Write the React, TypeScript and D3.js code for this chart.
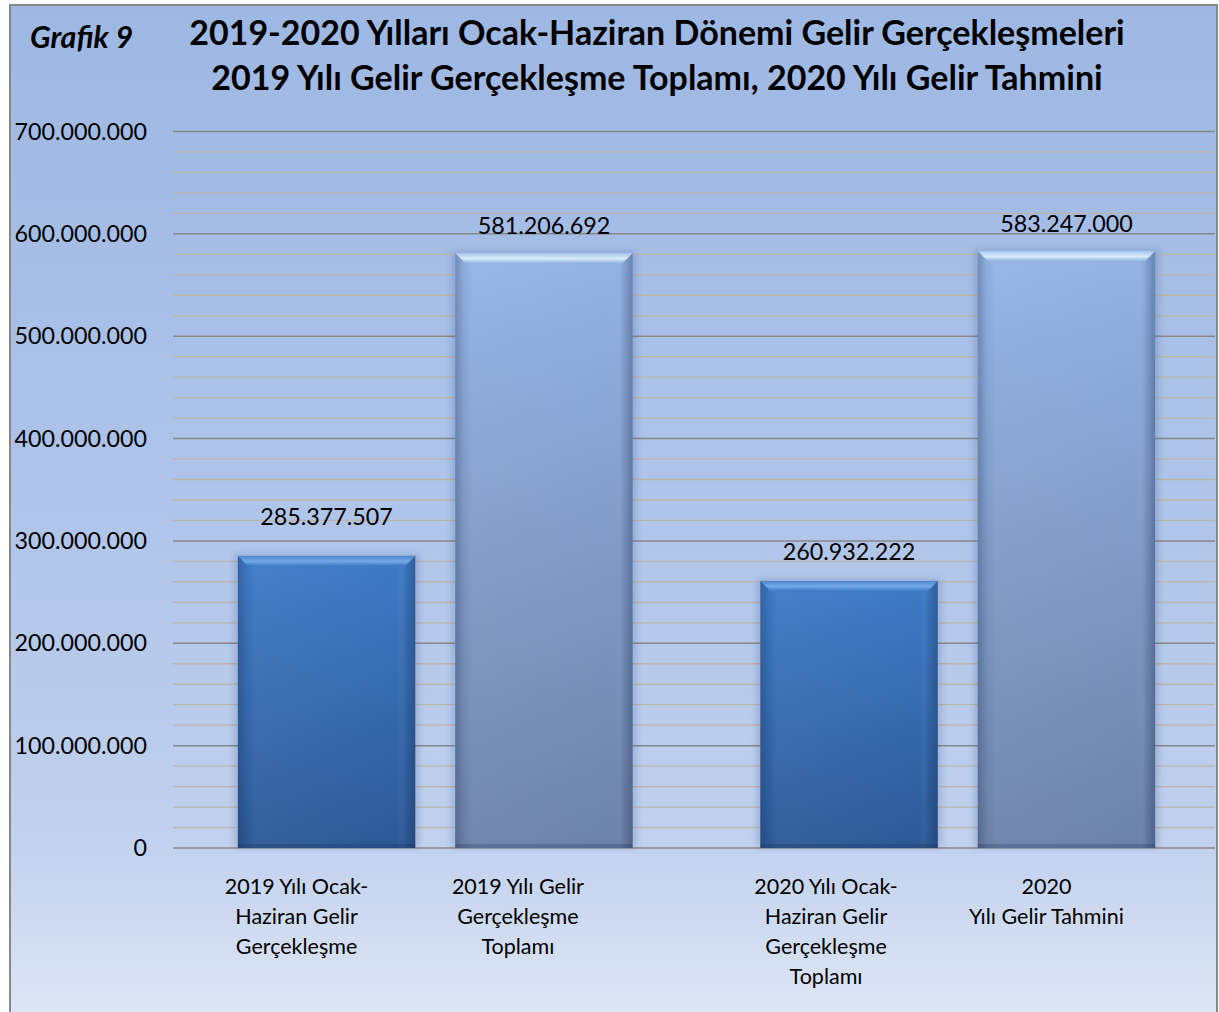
import React from "react";
import * as d3 from "d3";

const groups = ["2019", "2020"];
const seriesKeys = ["ocakHaziran", "toplam"];
const categories = [
  ["2019 Yılı Ocak-", "Haziran Gelir", "Gerçekleşme"],
  ["2019 Yılı Gelir", "Gerçekleşme", "Toplamı"],
  ["2020 Yılı Ocak-", "Haziran Gelir", "Gerçekleşme", "Toplamı"],
  ["2020", "Yılı Gelir Tahmini"],
];
const barGroup = ["2019", "2019", "2020", "2020"];
const barSeries = ["ocakHaziran", "toplam", "ocakHaziran", "toplam"];
const values = [285377507, 581206692, 260932222, 583247000];
const valueLabels = ["285.377.507", "581.206.692", "260.932.222", "583.247.000"];
const yTicks = [0, 100000000, 200000000, 300000000, 400000000, 500000000, 600000000, 700000000];
const yTickLabels = ["0", "100.000.000", "200.000.000", "300.000.000", "400.000.000", "500.000.000", "600.000.000", "700.000.000"];
const minorStep = 20000000;
const titleLines = [
  "2019-2020 Yılları Ocak-Haziran Dönemi Gelir Gerçekleşmeleri",
  "2019 Yılı Gelir Gerçekleşme Toplamı, 2020 Yılı Gelir Tahmini",
];
const chartLabel = "Grafik 9";

const W = 1219;
const H = 1012;
const FONT = "Lato, 'Open Sans', sans-serif";
const labelLift = [31, 19, 21, 19];
const catLabelShift = [-30, -26, -23, -20];

export default function App() {
  const y = d3.scaleLinear().domain([0, 700000000]).range([848, 131.5]);
  const xg = d3
    .scaleBand<string>()
    .domain(groups)
    .range([174, 1219])
    .paddingInner(0.2445)
    .paddingOuter(0.12225);
  const xs = d3
    .scaleBand<string>()
    .domain(seriesKeys)
    .range([0, xg.bandwidth()])
    .paddingInner(0.184)
    .paddingOuter(0);

  const minor = d3.range(0, 700000001, minorStep).filter((v) => v % 100000000 !== 0);

  const seriesStyle: Record<string, any> = {
    ocakHaziran: { top: "#3e7bc6", bottom: "#2c5996", bevelTop: "#4f86cc", bevelHi: "#74a9e8", id: "s1" },
    toplam: { top: "#93b4e5", bottom: "#6c82a8", bevelTop: "#a9c5ec", bevelHi: "#d8ecf9", id: "s2" },
  };

  return (
    <svg
      width={W}
      height={H}
      style={{ position: "absolute", left: 0, top: 0, display: "block" }}
      fontFamily={FONT}
    >
      <defs>
        <linearGradient id="bg" x1="0" y1="0" x2="0" y2="1">
          <stop offset="0%" stopColor="#9db8e3" />
          <stop offset="45%" stopColor="#adc3e9" />
          <stop offset="82%" stopColor="#c0d0ee" />
          <stop offset="100%" stopColor="#dee6f4" />
        </linearGradient>
        {Object.values(seriesStyle).map((s: any) => (
          <React.Fragment key={s.id}>
            <linearGradient id={`body-${s.id}`} x1="0" y1="0" x2="0" y2="1">
              <stop offset="0%" stopColor={s.top} />
              <stop offset="100%" stopColor={s.bottom} />
            </linearGradient>
            <linearGradient id={`bevel-${s.id}`} x1="0" y1="0" x2="0" y2="1">
              <stop offset="0%" stopColor={s.bevelTop} />
              <stop offset="55%" stopColor={s.bevelHi} />
              <stop offset="100%" stopColor={s.top} />
            </linearGradient>
          </React.Fragment>
        ))}
        <linearGradient id="sideShade" x1="0" y1="0" x2="1" y2="0">
          <stop offset="0%" stopColor="#1a2a50" stopOpacity="0.28" />
          <stop offset="5%" stopColor="#1a2a50" stopOpacity="0.05" />
          <stop offset="10%" stopColor="#ffffff" stopOpacity="0.04" />
          <stop offset="90%" stopColor="#ffffff" stopOpacity="0" />
          <stop offset="95%" stopColor="#1a2a50" stopOpacity="0.12" />
          <stop offset="100%" stopColor="#1a2a50" stopOpacity="0.35" />
        </linearGradient>
        <filter id="blur" x="-20%" y="-20%" width="140%" height="140%">
          <feGaussianBlur stdDeviation="3" />
        </filter>
      </defs>

      <rect x={10} y={5} width={1207} height={H} fill="url(#bg)" stroke="#878787" strokeWidth={2} />

      {minor.map((v) => (
        <line key={`m${v}`} x1={173} x2={1215} y1={y(v)} y2={y(v)} stroke="#bdb6a8" strokeWidth={1.3} />
      ))}
      {yTicks.map((v) => (
        <line key={`M${v}`} x1={173} x2={1215} y1={y(v)} y2={y(v)} stroke="#878787" strokeWidth={1.5} />
      ))}
      {yTicks.map((v, i) => (
        <text key={`t${v}`} x={147} y={y(v) + 8} textAnchor="end" fontSize={23.3} fill="#000">
          {yTickLabels[i]}
        </text>
      ))}

      {values.map((v, i) => {
        const s = seriesStyle[barSeries[i]];
        const x0 = (xg(barGroup[i]) ?? 0) + (xs(barSeries[i]) ?? 0);
        const w = xs.bandwidth();
        const top = y(v);
        const base = y(0);
        const h = base - top;
        const b = 10;
        return (
          <g key={`bar${i}`}>
            <rect x={x0 - 4} y={top - 2} width={w + 8} height={h + 2} fill="#3a5585" opacity={0.22} filter="url(#blur)" />
            <rect x={x0} y={top} width={w} height={h} fill={`url(#body-${s.id})`} />
            <rect x={x0} y={top} width={w} height={h} fill="url(#sideShade)" />
            <polygon
              points={`${x0},${top} ${x0 + w},${top} ${x0 + w - b},${top + b} ${x0 + b},${top + b}`}
              fill={`url(#bevel-${s.id})`}
            />
            <rect x={x0} y={base - 4} width={w} height={4} fill="#1a2a50" opacity={0.25} />
          </g>
        );
      })}

      {values.map((v, i) => {
        const x0 = (xg(barGroup[i]) ?? 0) + (xs(barSeries[i]) ?? 0) + xs.bandwidth() / 2;
        return (
          <text key={`v${i}`} x={x0} y={y(v) - labelLift[i]} textAnchor="middle" fontSize={23.3} fill="#000">
            {valueLabels[i]}
          </text>
        );
      })}

      {categories.map((lines, i) => {
        const cx = (xg(barGroup[i]) ?? 0) + (xs(barSeries[i]) ?? 0) + xs.bandwidth() / 2 + catLabelShift[i];
        return (
          <text key={`c${i}`} textAnchor="middle" fontSize={21.5} fill="#000">
            {lines.map((l, j) => (
              <tspan key={j} x={cx} y={894 + j * 30}>
                {l}
              </tspan>
            ))}
          </text>
        );
      })}

      <text x={30} y={48} fontSize={30.5} fontWeight="bold" fontStyle="italic" fill="#000">
        {chartLabel}
      </text>
      {titleLines.map((t, i) => (
        <text key={t} x={657} y={45 + i * 45} textAnchor="middle" fontSize={34} fontWeight="bold" fill="#000">
          {t}
        </text>
      ))}
    </svg>
  );
}
